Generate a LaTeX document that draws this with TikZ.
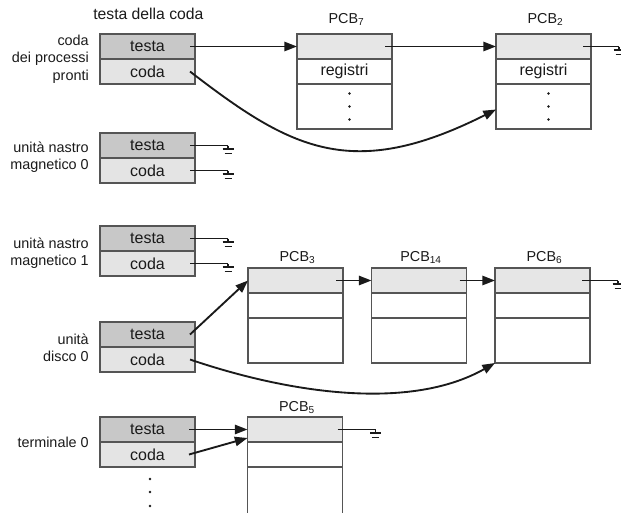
\documentclass[tikz,border=0pt]{standalone}
\usepackage{fontspec}
\setmainfont{Liberation Sans}
\usetikzlibrary{arrows.meta,calc}

\definecolor{edge}{HTML}{555555}
\definecolor{headfill}{HTML}{C8C8C8}
\definecolor{tailfill}{HTML}{E4E4E4}
\definecolor{pcbfill}{HTML}{E6E6E6}
\definecolor{ink}{HTML}{1A1A1A}

\begin{document}
\begin{tikzpicture}[x=0.75pt,y=-0.75pt,
  cell/.style={draw=edge, line width=0.8pt, minimum width=71.25pt,
    minimum height=18.75pt, inner sep=0pt, outer sep=0pt,
    font=\fontsize{12}{14}\selectfont, text=ink},
  headcell/.style={cell, fill=headfill},
  tailcell/.style={cell, fill=tailfill},
  pcbtop/.style={cell, fill=pcbfill},
  pcbmid/.style={cell, fill=white, anchor=north},
  pcbbody/.style={cell, fill=white, anchor=north, minimum height=33.75pt},
  lbl/.style={font=\fontsize{10.8}{13}\selectfont, align=right, anchor=east,
    text=ink, inner sep=0pt},
  ptitle/.style={font=\fontsize{10.8}{13}\selectfont, anchor=base, text=ink,
    inner sep=0pt},
  ttlstyle/.style={font=\fontsize{11.8}{14}\selectfont, anchor=base west,
    text=ink, inner sep=0pt},
  ptr/.style={-{Triangle[length=9.5pt,width=7pt]}, line width=1.4pt, draw=ink},
  wire/.style={line width=1.1pt, draw=ink},
  earth/.pic={\draw[line width=1.1pt, ink] (0,0) -- (0,3.5)
      (-5.5,3.5) -- (5.5,3.5) (-3.5,8) -- (3.5,8);}
]
\path[use as bounding box, clip] (0,0) rectangle (621,512);

% ---------- queue headers ----------
\node[ttlstyle] (ttl) at (93,19) {testa della coda};

\node[headcell] (rqa) at (147.5,46.5) {testa};
\node[tailcell, anchor=north] (rqb) at (rqa.south) {coda};
\node[lbl] (lrq) at (89,59) {coda\\dei processi\\pronti};

\node[headcell] (t0a) at (147.5,145.5) {testa};
\node[tailcell, anchor=north] (t0b) at (t0a.south) {coda};
\node[lbl] (lt0) at (89,157) {unità nastro\\magnetico 0};

\node[headcell] (t1a) at (147.5,238.5) {testa};
\node[tailcell, anchor=north] (t1b) at (t1a.south) {coda};
\node[lbl] (lt1) at (89,253) {unità nastro\\magnetico 1};

\node[headcell] (dka) at (147.5,334.5) {testa};
\node[tailcell, anchor=north] (dkb) at (dka.south) {coda};
\node[lbl] (ldk) at (89,348) {unità\\disco 0};

\node[headcell] (tma) at (147.5,429.5) {testa};
\node[tailcell, anchor=north] (tmb) at (tma.south) {coda};
\node[lbl] (ltm) at (89,442) {terminale 0};

\foreach \yy in {479,492,506} \fill[ink] (150,\yy) circle[radius=1.1pt];

% ---------- PCBs of the ready queue ----------
\node[pcbtop] (p7a) at (344.5,46.5) {};
\node[pcbmid] (p7b) at (p7a.south) {registri};
\node[pcbbody] (p7c) at (p7b.south) {};
\node[ptitle] (p7t) at (346.5,23) {PCB\textsubscript{7}};

\node[pcbtop] (p2a) at (543.5,46.5) {};
\node[pcbmid] (p2b) at (p2a.south) {registri};
\node[pcbbody] (p2c) at (p2b.south) {};
\node[ptitle] (p2t) at (545.5,23) {PCB\textsubscript{2}};

\foreach \n in {p7c,p2c}
  \foreach \dy in {-13,0,13}
    \fill[ink] ($(\n.center)+(5,\dy)$) circle[radius=1.1pt];

% ---------- PCBs of the disk queue ----------
\node[pcbtop] (p3a) at (295.5,280.5) {};
\node[pcbmid] (p3b) at (p3a.south) {};
\node[pcbbody] (p3c) at (p3b.south) {};
\node[ptitle] (p3t) at (297.5,261.5) {PCB\textsubscript{3}};

\node[pcbtop] (p14a) at (419,280.5) {};
\node[pcbmid] (p14b) at (p14a.south) {};
\node[pcbbody] (p14c) at (p14b.south) {};
\node[ptitle] (p14t) at (421,261.5) {PCB\textsubscript{14}};

\node[pcbtop] (p6a) at (542.5,280.5) {};
\node[pcbmid] (p6b) at (p6a.south) {};
\node[pcbbody] (p6c) at (p6b.south) {};
\node[ptitle] (p6t) at (544.5,261.5) {PCB\textsubscript{6}};

% ---------- PCB of the terminal queue ----------
\node[pcbtop] (p5a) at (295,429.5) {};
\node[pcbmid] (p5b) at (p5a.south) {};
\node[pcbbody, minimum height=36pt] (p5c) at (p5b.south) {};
\node[ptitle] (p5t) at (297,411.5) {PCB\textsubscript{5}};

% ---------- links ----------
\draw[ptr] ($(rqa.east)+(-5,0)$) -- (p7a.west);
\draw[ptr] ($(p7a.east)+(-7,0)$) -- (p2a.west);
\draw[ptr] ($(rqb.east)+(-5,0)$) .. controls +(100,77) and +(-145,73) .. ($(p2c.west)+(0,3)$);

\draw[ptr] ($(dka.east)+(-5,0)$) -- (p3a.west);
\draw[ptr] ($(p3a.east)+(-7,0)$) -- (p14a.west);
\draw[ptr] ($(p14a.east)+(-7,0)$) -- (p6a.west);
\draw[ptr] ($(dkb.east)+(-5,0)$) .. controls +(100,34) and +(-85,48) .. (p6c.south west);

\draw[ptr] ($(tma.east)+(-6,0)$) -- (p5a.west);
\draw[ptr] ($(tmb.east)+(-6,0)$) -- ($(p5a.south west)+(0,-4)$);

% ---------- null pointers ----------
\foreach \n in {t0a,t0b,t1a,t1b} {
  \draw[wire] ($(\n.east)+(-5,0)$) -- ++(38,0) coordinate (\n-end);
  \pic at (\n-end) {earth};
}
\foreach \n in {p2a,p6a} {
  \draw[wire] ($(\n.east)+(-8,0)$) -- ++(36,0) coordinate (\n-end);
  \pic at (\n-end) {earth};
}
\draw[wire] ($(p5a.east)+(-5,0)$) -- ++(38,0) coordinate (p5a-end);
\pic at (p5a-end) {earth};

\end{tikzpicture}
\end{document}
